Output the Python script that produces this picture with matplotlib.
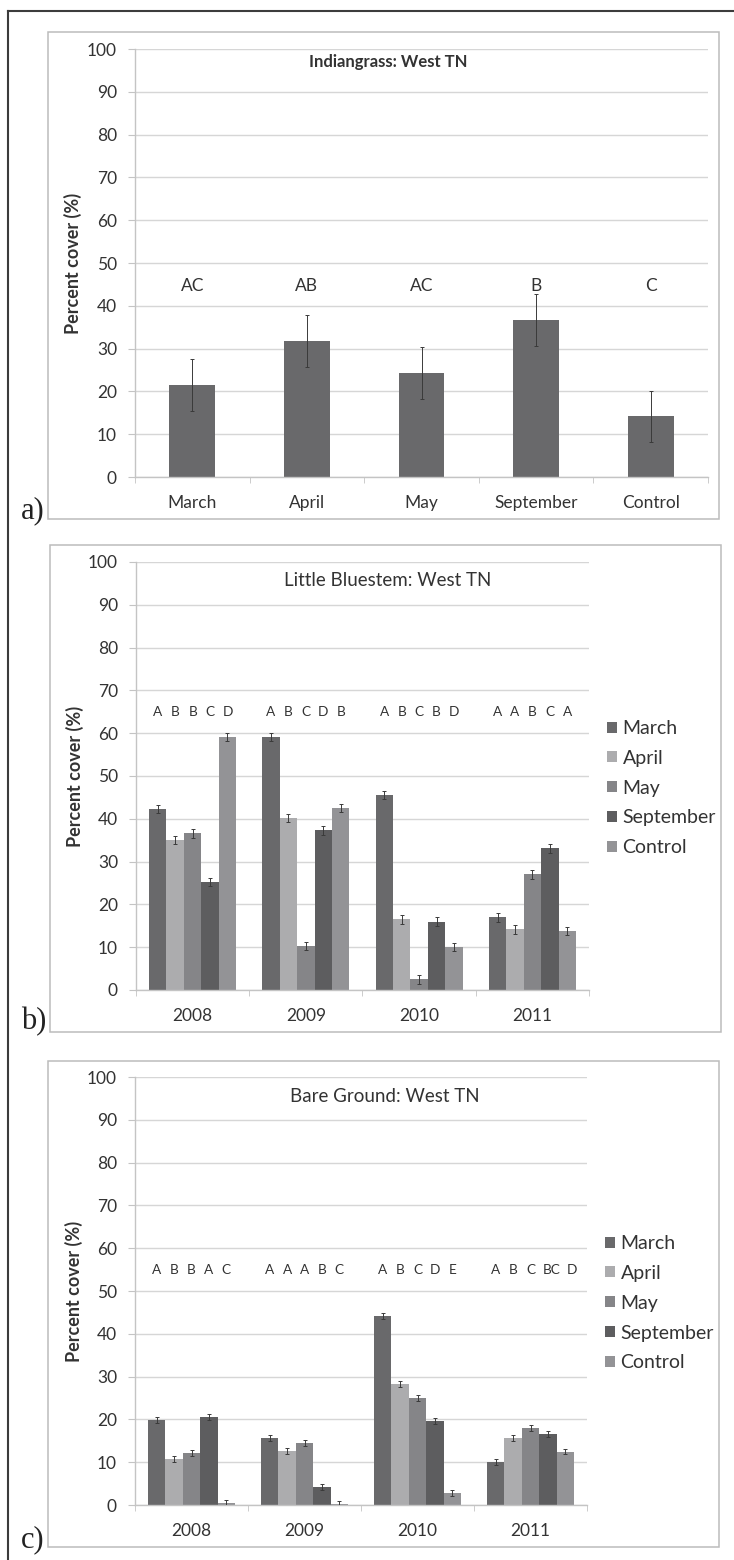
import numpy as np
import matplotlib.pyplot as plt
from matplotlib.patches import Rectangle
from matplotlib.lines import Line2D

plt.rcParams['font.family'] = ['Lato', 'DejaVu Sans']

W, H = 734, 1560
TXT = '#333333'
GRID = '#d6d6d6'
AXC = '#c4c4c4'

# ---------------------------------------------------------------
# a) Indiangrass, West TN
months_a = ['March', 'April', 'May', 'September', 'Control']
cover_a = [21.5, 31.7, 24.3, 36.7, 14.2]
err_a = [6.0, 6.1, 6.1, 6.1, 6.0]
letters_a = ['AC', 'AB', 'AC', 'B', 'C']

# b) / c) burn month by year
years = ['2008', '2009', '2010', '2011']
series = ['March', 'April', 'May', 'September', 'Control']
colors = ['#69696b', '#acacae', '#858588', '#5d5d5f', '#939396']

# Little Bluestem
lb_march = [42.3, 59.1, 45.6, 17.0]
lb_april = [35.0, 40.2, 16.5, 14.2]
lb_may = [36.6, 10.3, 2.5, 27.0]
lb_sept = [25.2, 37.3, 16.0, 33.1]
lb_control = [59.1, 42.5, 10.0, 13.8]
lb_err = [1.0, 1.0, 1.0, 1.0]
lb_letters = [['A', 'B', 'B', 'C', 'D'],
              ['A', 'B', 'C', 'D', 'B'],
              ['A', 'B', 'C', 'B', 'D'],
              ['A', 'A', 'B', 'C', 'A']]

# Bare Ground
bg_march = [19.8, 15.6, 44.2, 10.0]
bg_april = [10.7, 12.6, 28.3, 15.7]
bg_may = [12.1, 14.6, 24.9, 18.1]
bg_sept = [20.5, 4.3, 19.7, 16.7]
bg_control = [0.5, 0.15, 2.7, 12.5]
bg_err = [0.7, 0.7, 0.7, 0.7]
bg_letters = [['A', 'B', 'B', 'A', 'C'],
              ['A', 'A', 'A', 'B', 'C'],
              ['A', 'B', 'C', 'D', 'E'],
              ['A', 'B', 'C', 'BC', 'D']]

# ---------------------------------------------------------------

fig = plt.figure(figsize=(W / 100, H / 100), dpi=100)


def px_axes(x0, y0, x1, y1):
    return fig.add_axes([x0 / W, 1 - y1 / H, (x1 - x0) / W, (y1 - y0) / H])


def px_box(x0, y0, x1, y1):
    fig.add_artist(Rectangle((x0 / W, 1 - y1 / H), (x1 - x0) / W, (y1 - y0) / H,
                             transform=fig.transFigure, fill=False, ec='#bcbcbc', lw=1.1))


def style(ax, labels):
    n = len(labels)
    ax.set_ylim(0, 100)
    ax.set_xlim(-0.5, n - 0.5)
    ax.set_yticks(range(0, 101, 10))
    ax.yaxis.grid(True, color=GRID, lw=1.0)
    ax.set_axisbelow(True)
    for s in ['top', 'right']:
        ax.spines[s].set_visible(False)
    for s in ['left', 'bottom']:
        ax.spines[s].set_color(AXC)
        ax.spines[s].set_linewidth(1.0)
    ax.tick_params(axis='y', length=5, color=AXC, pad=8, labelsize=12.5, labelcolor=TXT)
    ax.set_xticks(np.arange(n))
    ax.set_xticklabels(labels)
    ax.set_xticks(np.arange(n + 1) - 0.5, minor=True)
    ax.tick_params(axis='x', which='major', length=0, pad=13, labelsize=12.5, labelcolor=TXT)
    ax.tick_params(axis='x', which='minor', length=4.3, color=AXC)


def ylabel(x, y):
    fig.text(x / W, 1 - y / H, 'Percent cover (%)', rotation=90, ha='center', va='center',
             fontsize=13, weight='bold', color=TXT)


def grouped(ax, data, errs, letters, letter_y):
    w = 1 / 6.5
    x = np.arange(len(years))
    for i, (vals, c) in enumerate(zip(data, colors)):
        xs = x + (i - 2) * w
        ax.bar(xs, vals, w, color=c, label=series[i], zorder=2)
        ax.errorbar(xs, vals, yerr=errs, fmt='none', ecolor='#3a3a3a', elinewidth=0.7,
                    capsize=1.6, capthick=0.7, zorder=3)
    # significance letters above each bar; longer labels push the rest right a bit
    for j, group in enumerate(letters):
        shift = 0.0
        for i, g in enumerate(group):
            extra = 2.5 * (len(g) - 1)
            ax.annotate(g, (x[j] + (i - 2) * w, letter_y), xytext=(shift + extra, 0),
                        textcoords='offset points', ha='center', va='center',
                        fontsize=9.8, color=TXT)
            shift += 2 * extra


def legend(ax, x, y):
    ax.legend(loc='upper left', bbox_to_anchor=(x / W, 1 - y / H), bbox_transform=fig.transFigure,
              frameon=False, fontsize=14, handlelength=0.5, handleheight=0.5,
              handletextpad=0.3, labelspacing=0.66, borderpad=0, borderaxespad=0,
              labelcolor=TXT)


# outer frame (left and top edges only are in view)
fig.add_artist(Line2D([8 / W, 8 / W], [0, 1 - 11 / H], transform=fig.transFigure,
                      color='#3c3c3c', lw=1.5))
fig.add_artist(Line2D([8 / W, 1], [1 - 11 / H, 1 - 11 / H], transform=fig.transFigure,
                      color='#3c3c3c', lw=1.5))

# ---- panel a
px_box(48, 32, 719, 519)
ax_a = px_axes(135, 49, 708, 477)
style(ax_a, months_a)
xa = np.arange(len(months_a))
ax_a.bar(xa, cover_a, 0.4, color='#69696b', zorder=2)
ax_a.errorbar(xa, cover_a, yerr=err_a, fmt='none', ecolor='#3a3a3a', elinewidth=0.7,
              capsize=1.4, capthick=0.7, zorder=3)
for xi, g in zip(xa, letters_a):
    ax_a.text(xi, 44.6, g, ha='center', va='center', fontsize=12.5, color=TXT)
fig.text(388 / W, 1 - 62 / H, 'Indiangrass: West TN', ha='center', va='center',
         fontsize=12, weight='bold', color=TXT)
ylabel(73, 263)
fig.text(21 / W, 1 - 518 / H, 'a)', family='Liberation Serif', fontsize=22, color='#222222')

# ---- panel b
px_box(50, 545, 721, 1032)
ax_b = px_axes(136, 562, 589, 990)
style(ax_b, years)
grouped(ax_b, [lb_march, lb_april, lb_may, lb_sept, lb_control], lb_err, lb_letters, 65)
fig.text(388 / W, 1 - 581 / H, 'Little Bluestem: West TN', ha='center', va='center',
         fontsize=13.5, color=TXT)
ylabel(75, 776)
fig.text(21 / W, 1 - 1029 / H, 'b)', family='Liberation Serif', fontsize=22, color='#222222')
legend(ax_b, 607, 720)

# ---- panel c
px_box(48, 1061, 719, 1547)
ax_c = px_axes(135, 1077, 587, 1505)
style(ax_c, years)
grouped(ax_c, [bg_march, bg_april, bg_may, bg_sept, bg_control], bg_err, bg_letters, 54.9)
fig.text(385 / W, 1 - 1096 / H, 'Bare Ground: West TN', ha='center', va='center',
         fontsize=13.5, color=TXT)
ylabel(74, 1291)
fig.text(21 / W, 1 - 1547 / H, 'c)', family='Liberation Serif', fontsize=22, color='#222222')
legend(ax_c, 605, 1235)

fig.savefig('out.png', dpi=100, facecolor='white')
